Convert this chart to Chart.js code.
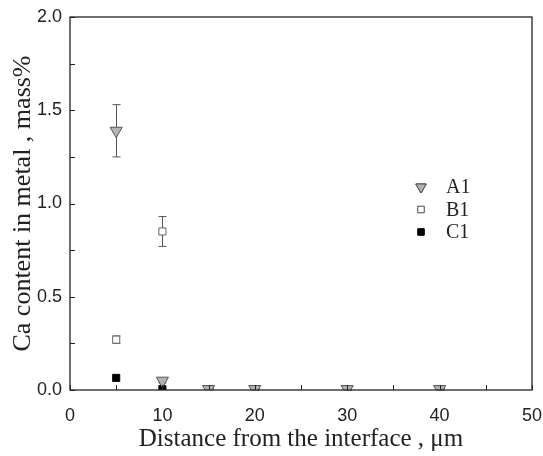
<!DOCTYPE html>
<html><head><meta charset="utf-8">
<script src="https://cdn.jsdelivr.net/npm/chart.js@4"></script>
<style>html,body{margin:0;padding:0;background:#fff}#wrap{width:543px;height:456px}</style>
</head><body><div id="wrap"><canvas id="c" width="543" height="456"></canvas></div>
<script>
const distances = [5, 10, 15, 20, 30, 40];
const A1 = [1.39, 0.05, 0.005, 0.005, 0.005, 0.005];
const A1err = [0.14, 0.012, 0.003, 0.006, 0.006, 0.006];
const B1 = [0.27, 0.85, 0.005, 0.005, 0.005, 0.005];
const B1err = [0.02, 0.08, 0.003, 0.003, 0.003, 0.003];
const C1x = [5, 10];
const C1 = [0.065, 0.005];
const C1err = [0.0, 0.0];
const xTicks = [0, 10, 20, 30, 40, 50];
const yTicks = [0.0, 0.5, 1.0, 1.5, 2.0];

const sets = [
  {label:'A1', xs:distances, ys:A1, err:A1err, style:'triangle', rot:180, r:7, bg:'#b3b3b3', bc:'#555'},
  {label:'B1', xs:distances, ys:B1, err:B1err, style:'rect', rot:0, r:5, bg:'#ffffff', bc:'#666'},
  {label:'C1', xs:C1x, ys:C1, err:C1err, style:'rect', rot:0, r:5, bg:'#000000', bc:'#000'}
];

const frame = {
  id:'frame',
  beforeDatasetsDraw(chart){
    const {ctx, scales:{x,y}} = chart;
    ctx.save();
    ctx.lineWidth = 1;
    chart.data.datasets.forEach((ds,i)=>{
      const e = sets[i].err;
      ds.data.forEach((p,j)=>{
        if(!e[j]) return;
        const px = Math.round(x.getPixelForValue(p.x))+0.5;
        const y1 = y.getPixelForValue(p.y+e[j]), y2 = y.getPixelForValue(Math.max(0,p.y-e[j]));
        ctx.strokeStyle = '#555';
        ctx.beginPath();
        ctx.moveTo(px,y1); ctx.lineTo(px,y2);
        ctx.moveTo(px-4,y1); ctx.lineTo(px+4,y1);
        ctx.moveTo(px-4,y2); ctx.lineTo(px+4,y2);
        ctx.stroke();
      });
    });
    ctx.restore();
  },
  afterDraw(chart){
    const {ctx, chartArea:a, scales:{x,y}} = chart;
    ctx.save();
    ctx.strokeStyle = '#222'; ctx.lineWidth = 1.3;
    ctx.strokeRect(a.left, a.top, a.right-a.left, a.bottom-a.top);
    ctx.lineWidth = 1;
    ctx.beginPath();
    for(let v=0; v<=50; v+=5){
      const px = Math.round(x.getPixelForValue(v))+0.5;
      ctx.moveTo(px,a.bottom); ctx.lineTo(px,a.bottom-5);
    }
    for(let v=0; v<=2.0001; v+=0.25){
      const py = Math.round(y.getPixelForValue(v))+0.5;
      ctx.moveTo(a.left,py); ctx.lineTo(a.left+5,py);
    }
    ctx.stroke();
    const lx = a.left + 351, ly0 = 187, gap = 22.5;
    sets.forEach((s,i)=>{
      const ly = ly0 + i*gap;
      Chart.helpers.drawPoint(ctx, {pointStyle:s.style, rotation:s.rot, radius: s.style==='triangle'?6:4.5, borderWidth:1}, lx, ly);
      ctx.fillStyle = s.bg; ctx.strokeStyle = s.bc;
      ctx.fill(); ctx.stroke();
      ctx.fillStyle = '#222';
      ctx.font = '20px "Liberation Serif", serif';
      ctx.textBaseline = 'middle'; ctx.textAlign = 'left';
      ctx.fillText(s.label, lx+25, ly+1);
    });
    ctx.restore();
  }
};

new Chart(document.getElementById('c'), {
  type:'scatter',
  data:{datasets: sets.map(s=>({
    label:s.label,
    data:s.xs.map((v,i)=>({x:v,y:s.ys[i]})),
    pointStyle:s.style, pointRotation:s.rot, pointRadius:s.r, pointHoverRadius:s.r,
    backgroundColor:s.bg, borderColor:s.bc, borderWidth:1
  }))},
  options:{
    responsive:false, animation:false, events:[],
    layout:{padding:{left:0,right:11,top:17,bottom:0}},
    plugins:{legend:{display:false}, tooltip:{enabled:false}},
    scales:{
      x:{type:'linear', min:0, max:50,
        afterBuildTicks(s){ s.ticks = xTicks.map(v=>({value:v})); },
        afterFit(s){ s.height = 66; s.paddingLeft = 0; s.paddingRight = 0; },
        grid:{display:false}, border:{display:false},
        ticks:{padding:7, color:'#222', font:{family:'"Liberation Sans", Arial, sans-serif', size:18}, maxRotation:0, autoSkip:false},
        title:{display:true, text:'Distance from the interface , μm', color:'#222', font:{family:'"Liberation Serif", serif', size:25}, padding:{top:0,bottom:2}}
      },
      y:{type:'linear', min:0, max:2.0,
        afterBuildTicks(s){ s.ticks = yTicks.map(v=>({value:v})); },
        afterFit(s){ s.width = 70; s.paddingTop = 0; s.paddingBottom = 0; },
        grid:{display:false}, border:{display:false},
        ticks:{padding:0, color:'#222', font:{family:'"Liberation Sans", Arial, sans-serif', size:18}, callback:v=>v.toFixed(1)},
        title:{display:true, text:'Ca content in metal , mass%', color:'#222', font:{family:'"Liberation Serif", serif', size:26}, padding:{top:8,bottom:0}}
      }
    }
  },
  plugins:[frame]
});
</script></body></html>
